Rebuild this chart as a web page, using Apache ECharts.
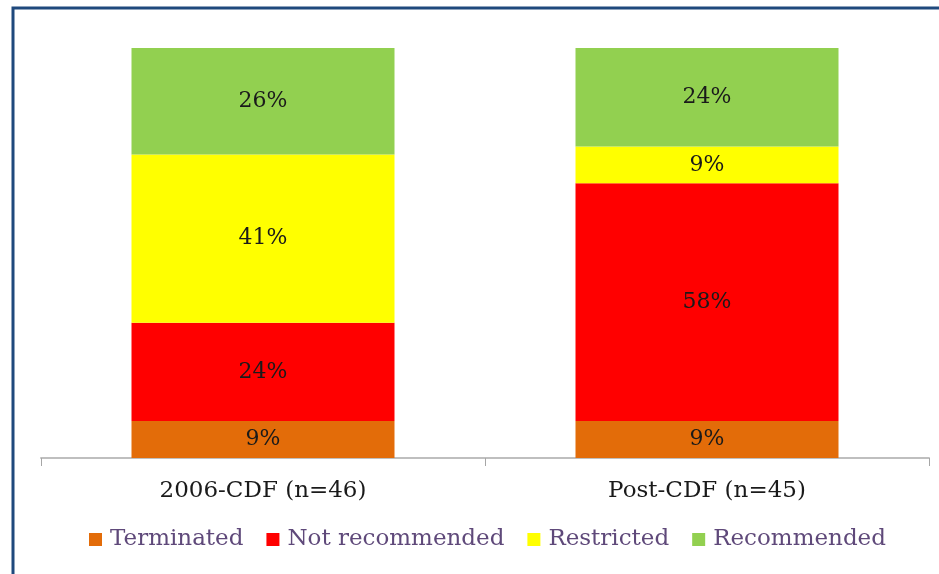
<!DOCTYPE html>
<html><head><meta charset="utf-8">
<script src="https://cdn.jsdelivr.net/npm/echarts@6/dist/echarts.min.js"></script>
<style>html,body{margin:0;padding:0;background:#fff}#c{width:939px;height:574px}</style>
</head><body><div id="c"></div>
<script>
const categories = ["2006-CDF (n=46)", "Post-CDF (n=45)"];
const seriesNames = ["Terminated", "Not recommended", "Restricted", "Recommended"];
const terminated = [9, 9];
const notRecommended = [24, 58];
const restricted = [41, 9];
const recommended = [26, 24];
const colors = ["#E36C09", "#FF0000", "#FFFF00", "#92D050"];
const values = [terminated, notRecommended, restricted, recommended];
const FONT = "DejaVu Serif";
const chart = echarts.init(document.getElementById('c'));
chart.setOption({
  animation: false,
  backgroundColor: '#fff',
  graphic: [{type:'rect', shape:{x:13,y:8,width:1000,height:1000}, style:{fill:'none', stroke:'#1F497D', lineWidth:3}, silent:true}],
  grid: {left: 41, right: 10, top: 48, bottom: 116},
  legend: {
    bottom: 18, left: 84, itemWidth: 13, itemHeight: 13, itemGap: 23,
    icon: 'rect',
    textStyle: {fontFamily: FONT, fontSize: 23, color: '#5F497A', padding: [0, 0, 0, 3]},
    data: seriesNames
  },
  xAxis: {
    type: 'category', data: categories,
    axisLine: {lineStyle: {color: '#BFBFBF', width: 2}},
    axisTick: {show: true, length: 8, lineStyle: {color: '#A6A6A6', width: 1}},
    axisLabel: {fontFamily: FONT, fontSize: 23, color: '#1a1a1a', margin: 22}
  },
  yAxis: {type: 'value', min: 0, max: 100, show: false, splitLine: {show: false}},
  series: seriesNames.map((n, i) => ({
    name: n, type: 'bar', stack: 'a', barWidth: 263,
    data: values[i],
    itemStyle: {color: colors[i]},
    label: {show: true, position: 'inside', formatter: '{c}%', fontFamily: FONT, fontSize: 22, color: '#1a1a1a'}
  }))
});
</script></body></html>
